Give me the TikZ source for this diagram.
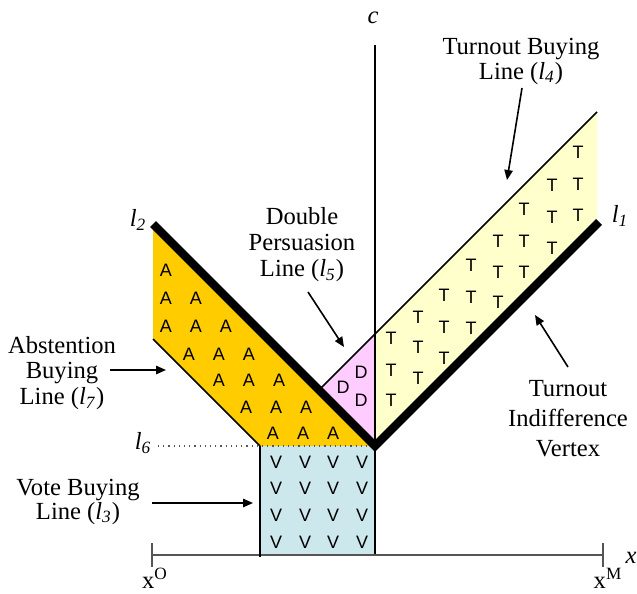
\documentclass[tikz,border=0pt]{standalone}
\usepackage{fontspec}
\setmainfont{Liberation Serif}
\newfontfamily\lettersf{Liberation Sans}
\usetikzlibrary{arrows.meta}
\definecolor{aorange}{HTML}{FFCC00}
\definecolor{tyellow}{HTML}{FFFFCC}
\definecolor{dpink}{HTML}{FFCCFF}
\definecolor{vblue}{HTML}{CCE8EC}
\definecolor{axgray}{HTML}{555555}
\newcommand\lsub[1]{\textit{l}\textsubscript{\textit{#1}}}
\begin{document}
\begin{tikzpicture}[x=0.5pt,y=-0.5pt,
  lab/.style={font=\fontsize{12.3}{12.5}\selectfont, align=center, inner sep=0pt},
  sym/.style={font=\fontsize{12.3}{12.5}\selectfont, inner sep=0pt},
  letr/.style={font=\lettersf\fontsize{9}{9}\selectfont, inner sep=0pt},
  arr/.style={-{Triangle[length=5pt,width=4.2pt]}, line width=0.8pt},
  bold line/.style={line width=4.2pt, line join=miter},
  thin line/.style={line width=0.75pt}]
\useasboundingbox (0,0) rectangle (637,594);
% key points
\coordinate (V) at (375,446);
\coordinate (P2) at (153,224);
\coordinate (P7) at (153,339);
\coordinate (Q7) at (260,446);
\coordinate (P1) at (599,222);
\coordinate (Y1) at (597,224);
\coordinate (Y2) at (597,112);
\coordinate (C5) at (375,334);
\coordinate (D0) at (319,390);
\coordinate (VB) at (260,555);
\coordinate (VR) at (375,555);
% regions
\fill[aorange] (P2) -- (V) -- (Q7) -- (P7) -- cycle;
\fill[dpink] (D0) -- (C5) -- (V) -- cycle;
\fill[tyellow] (C5) -- (Y2) -- (Y1) -- (V) -- cycle;
\fill[vblue] (Q7) rectangle (VR);
% l6 dotted
\coordinate (L6s) at (158,446);
\draw[dotted, line width=0.6pt, axgray] (L6s) -- (V);
% axes
\coordinate (Ctop) at (375,45);
\coordinate (Xl) at (152,555);
\coordinate (Xr) at (603,555);
\draw[line width=0.6pt] (Ctop) -- (VR);
\draw[axgray, line width=0.8pt] (Xl) -- (Xr);
\draw[axgray, line width=0.9pt] ([yshift=6pt]Xl) -- ([yshift=-6pt]Xl);
\draw[axgray, line width=0.9pt] ([yshift=6pt]Xr) -- ([yshift=-6pt]Xr);
\draw[line width=1pt] (Q7) -- ([yshift=-1pt]VB);
% thin lines
\draw[thin line] (P7) -- (Q7);
\draw[thin line] (D0) -- (Y2);
% thick lines
\draw[bold line] (P2) -- (V) -- (P1);
% letters
\foreach \x/\y [count=\i] in {166/270,166/298,196/298,166/326,196/326,226/326,189/354,219/354,249/354,219/380,249/380,279/380,246/407,276/407,306/407,273/433,303/433,333/433}
  \node[letr] (a\i) at (\x,\y) {A};
\foreach \x in {276,305,333,362}
  \foreach \y [count=\j] in {462,488,515,542}
    \node[letr] (v\x-\j) at (\x,\y) {V};
\foreach \x/\y [count=\i] in {361/372,343/387,361/400}
  \node[letr] (d\i) at (\x,\y) {D};
\foreach \x/\ya/\yb/\yc in {578/152/184/215,552/185/217/248,524/209/241/272,498/241/272/302,471/265/297/328,444/295/327/358,418/317/347/378,391/338/370/400}
  \foreach \y [count=\j] in {\ya,\yb,\yc}
    \node[letr] (t\x-\j) at (\x,\y) {T};
% labels
\node[sym] (lc) at (373,18) {\textit{c}};
\node[sym] (lx) at (631,558) {\textit{x}};
\node[sym] (lxo) at (155,578) {x\textsuperscript{O}};
\node[sym] (lxm) at (608,578) {x\textsuperscript{M}};
\node[sym] (ll2) at (138,220) {\lsub{2}};
\node[sym] (ll1) at (620,216) {\lsub{1}};
\node[sym] (ll6) at (143,443) {\lsub{6}};
% text and arrows
\node[lab] (tb) at (521,61) {Turnout Buying\\Line (\lsub{4})};
\coordinate (tbs) at (522,88);
\coordinate (tbt) at (507,180);
\draw[arr] (tbs) -- (tbt);
\node[lab, font=\fontsize{12.3}{13}\selectfont] (dp) at (302,245) {Double\\Persuasion\\Line (\lsub{5})};
\coordinate (dps) at (308,292);
\coordinate (dpt) at (344,347);
\draw[arr] (dps) -- (dpt);
\node[lab, font=\fontsize{12.3}{12.8}\selectfont] (ab) at (62,373) {Abstention\\Buying\\Line (\lsub{7})};
\coordinate (abs) at (110,370);
\coordinate (abt) at (166,370);
\draw[arr] (abs) -- (abt);
\node[lab, font=\fontsize{12.3}{11.7}\selectfont] (vb) at (78,502) {Vote Buying\\Line (\lsub{3})};
\coordinate (vbs) at (152,503);
\coordinate (vbt) at (253,503);
\draw[arr] (vbs) -- (vbt);
\node[lab, font=\fontsize{12.3}{15}\selectfont] (tiv) at (568,419) {Turnout\\Indifference\\Vertex};
\coordinate (tivs) at (568,367);
\coordinate (tivt) at (535,315);
\draw[arr] (tivs) -- (tivt);
\end{tikzpicture}
\end{document}
